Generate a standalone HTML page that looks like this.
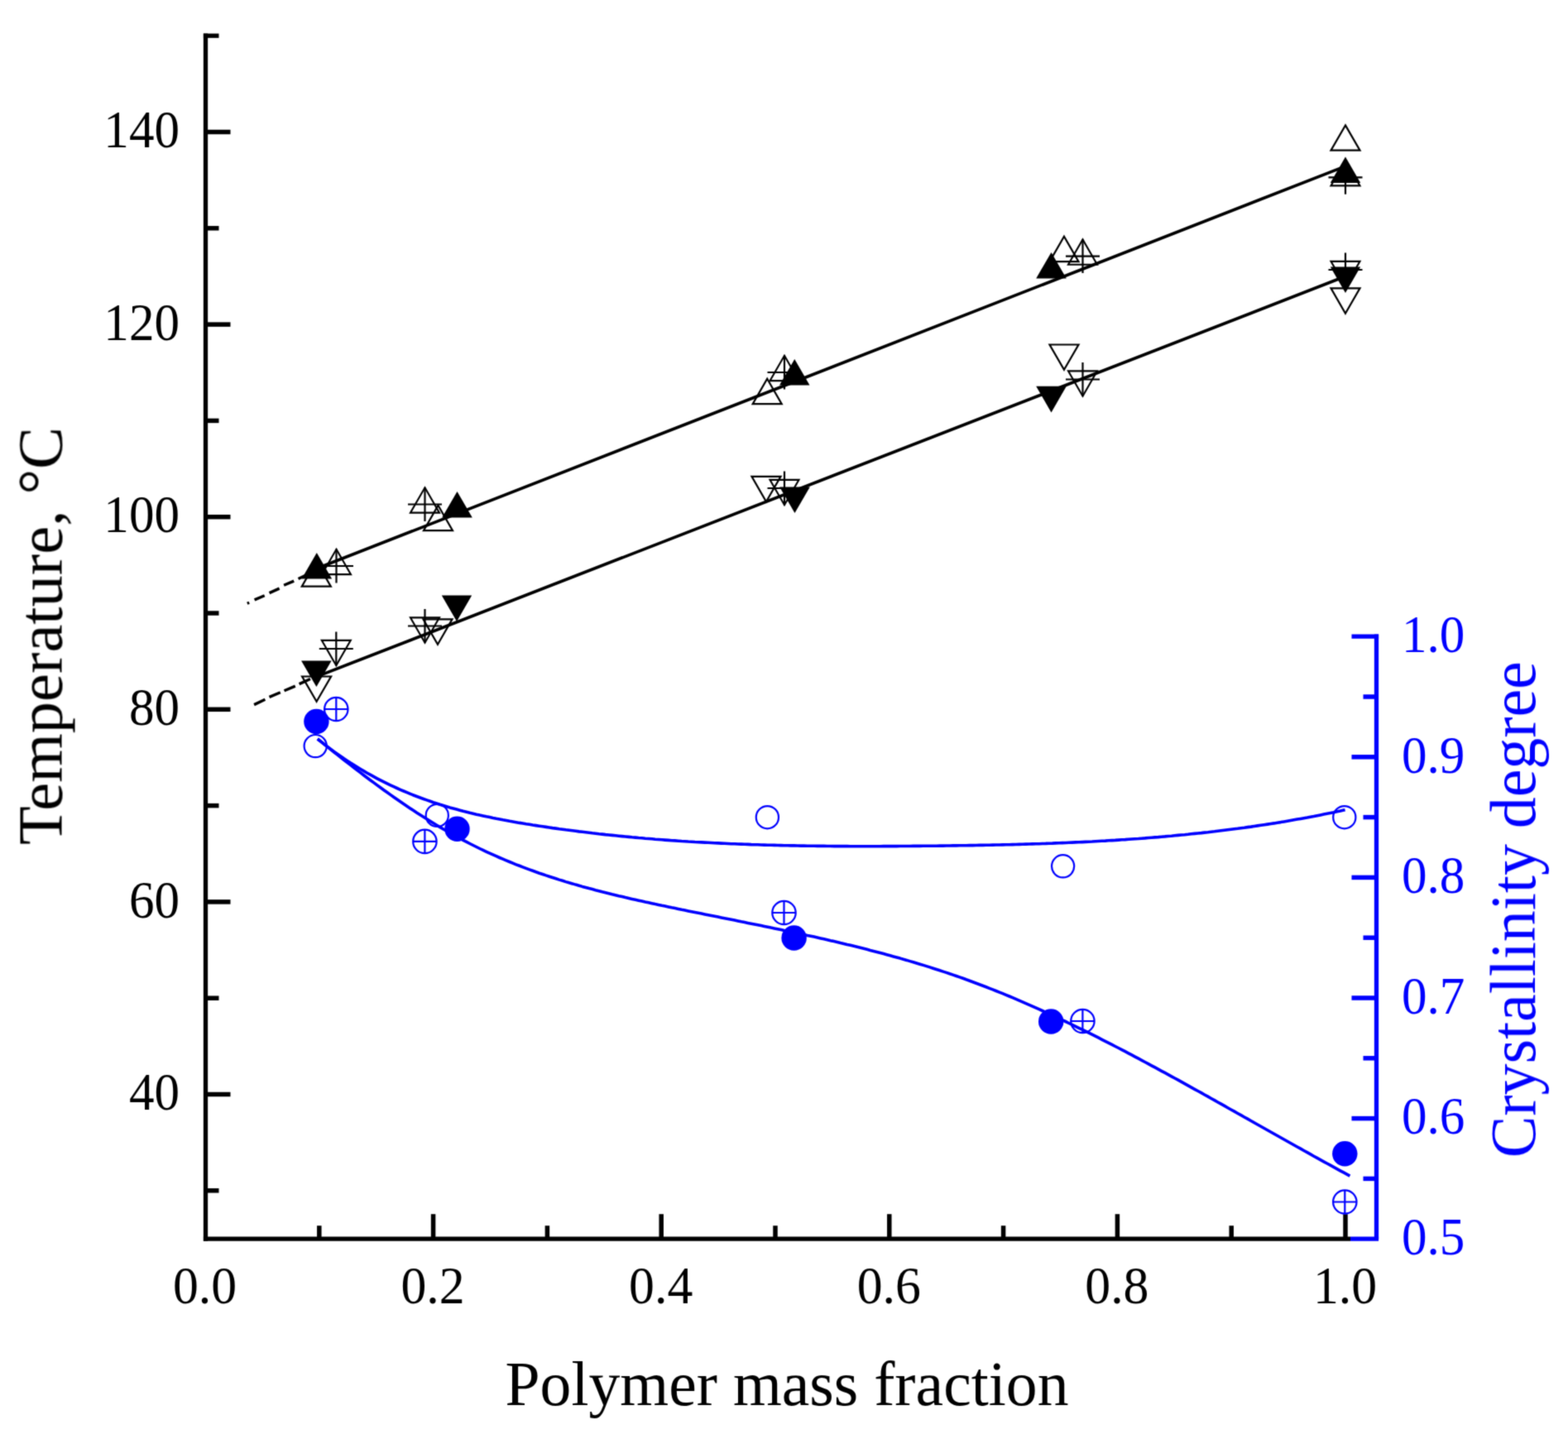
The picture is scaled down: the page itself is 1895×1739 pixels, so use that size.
<!DOCTYPE html>
<html><head><meta charset="utf-8"><style>html,body{margin:0;padding:0;background:#fff;}svg{display:block;}</style></head>
<body>
<svg width="1895" height="1739" viewBox="0 0 1895 1739">
<defs><filter id="soft" filterUnits="userSpaceOnUse" x="0" y="0" width="1895" height="1739" color-interpolation-filters="sRGB"><feConvolveMatrix order="3" kernelMatrix="0.0277 0.1110 0.0277 0.1110 0.4452 0.1110 0.0277 0.1110 0.0277" edgeMode="duplicate" preserveAlpha="false"/></filter></defs>
<rect width="100%" height="100%" fill="#fff"/>
<g filter="url(#soft)">
<path d="M248.5,40.59999999999999V1499.8" stroke="#000" stroke-width="5.3" fill="none"/>
<path d="M248.5,1438.8H264.5" stroke="#000" stroke-width="5.5"/>
<path d="M248.5,1322.5H278.5" stroke="#000" stroke-width="5.5"/>
<path d="M248.5,1206.2H264.5" stroke="#000" stroke-width="5.5"/>
<path d="M248.5,1089.9H278.5" stroke="#000" stroke-width="5.5"/>
<path d="M248.5,973.6H264.5" stroke="#000" stroke-width="5.5"/>
<path d="M248.5,857.3H278.5" stroke="#000" stroke-width="5.5"/>
<path d="M248.5,741.0H264.5" stroke="#000" stroke-width="5.5"/>
<path d="M248.5,624.7H278.5" stroke="#000" stroke-width="5.5"/>
<path d="M248.5,508.4H264.5" stroke="#000" stroke-width="5.5"/>
<path d="M248.5,392.1H278.5" stroke="#000" stroke-width="5.5"/>
<path d="M248.5,275.8H264.5" stroke="#000" stroke-width="5.5"/>
<path d="M248.5,159.5H278.5" stroke="#000" stroke-width="5.5"/>
<path d="M245.9,43.2H264.5" stroke="#000" stroke-width="5.3"/>
<path d="M245.9,1497.2H1632.0" stroke="#000" stroke-width="5.3"/>
<path d="M1632.0,1497.2H1666.1" stroke="#00f" stroke-width="5.3"/>
<path d="M385.8,1497.2V1481.2" stroke="#000" stroke-width="5.5"/>
<path d="M523.6,1497.2V1467.2" stroke="#000" stroke-width="5.5"/>
<path d="M661.4,1497.2V1481.2" stroke="#000" stroke-width="5.5"/>
<path d="M799.2,1497.2V1467.2" stroke="#000" stroke-width="5.5"/>
<path d="M937.0,1497.2V1481.2" stroke="#000" stroke-width="5.5"/>
<path d="M1074.8,1497.2V1467.2" stroke="#000" stroke-width="5.5"/>
<path d="M1212.6,1497.2V1481.2" stroke="#000" stroke-width="5.5"/>
<path d="M1350.4,1497.2V1467.2" stroke="#000" stroke-width="5.5"/>
<path d="M1488.2,1497.2V1481.2" stroke="#000" stroke-width="5.5"/>
<path d="M1626.0,1497.2V1467.2" stroke="#000" stroke-width="5.5"/>
<path d="M1663.5,766.6V1497.2" stroke="#00f" stroke-width="5.3" fill="none"/>
<path d="M1663.5,1424.4H1647.5" stroke="#00f" stroke-width="5.5"/>
<path d="M1663.5,1351.6H1633.5" stroke="#00f" stroke-width="5.5"/>
<path d="M1663.5,1278.8H1647.5" stroke="#00f" stroke-width="5.5"/>
<path d="M1663.5,1206.0H1633.5" stroke="#00f" stroke-width="5.5"/>
<path d="M1663.5,1133.2H1647.5" stroke="#00f" stroke-width="5.5"/>
<path d="M1663.5,1060.4H1633.5" stroke="#00f" stroke-width="5.5"/>
<path d="M1663.5,987.6H1647.5" stroke="#00f" stroke-width="5.5"/>
<path d="M1663.5,914.8H1633.5" stroke="#00f" stroke-width="5.5"/>
<path d="M1663.5,842.0H1647.5" stroke="#00f" stroke-width="5.5"/>
<path d="M1666.1,769.2H1633.5" stroke="#00f" stroke-width="5.3"/>
<text x="217" y="1341.2" text-anchor="end" font-family="Liberation Serif, serif" font-size="64" transform="translate(217 0) scale(0.955 1) translate(-217 0)">40</text>
<text x="217" y="1108.6" text-anchor="end" font-family="Liberation Serif, serif" font-size="64" transform="translate(217 0) scale(0.955 1) translate(-217 0)">60</text>
<text x="217" y="876.0" text-anchor="end" font-family="Liberation Serif, serif" font-size="64" transform="translate(217 0) scale(0.955 1) translate(-217 0)">80</text>
<text x="217" y="643.4" text-anchor="end" font-family="Liberation Serif, serif" font-size="64" transform="translate(217 0) scale(0.955 1) translate(-217 0)">100</text>
<text x="217" y="410.8" text-anchor="end" font-family="Liberation Serif, serif" font-size="64" transform="translate(217 0) scale(0.955 1) translate(-217 0)">120</text>
<text x="217" y="178.2" text-anchor="end" font-family="Liberation Serif, serif" font-size="64" transform="translate(217 0) scale(0.955 1) translate(-217 0)">140</text>
<text x="247.5" y="1575.5" text-anchor="middle" font-family="Liberation Serif, serif" font-size="64" transform="translate(247.5 0) scale(0.965 1) translate(-247.5 0)">0.0</text>
<text x="523.1" y="1575.5" text-anchor="middle" font-family="Liberation Serif, serif" font-size="64" transform="translate(523.1 0) scale(0.965 1) translate(-523.1 0)">0.2</text>
<text x="798.7" y="1575.5" text-anchor="middle" font-family="Liberation Serif, serif" font-size="64" transform="translate(798.7 0) scale(0.965 1) translate(-798.7 0)">0.4</text>
<text x="1074.3" y="1575.5" text-anchor="middle" font-family="Liberation Serif, serif" font-size="64" transform="translate(1074.3 0) scale(0.965 1) translate(-1074.3 0)">0.6</text>
<text x="1349.9" y="1575.5" text-anchor="middle" font-family="Liberation Serif, serif" font-size="64" transform="translate(1349.9 0) scale(0.965 1) translate(-1349.9 0)">0.8</text>
<text x="1625.5" y="1575.5" text-anchor="middle" font-family="Liberation Serif, serif" font-size="64" transform="translate(1625.5 0) scale(0.965 1) translate(-1625.5 0)">1.0</text>
<text x="1694" y="1516.0" fill="#00f" font-family="Liberation Serif, serif" font-size="64" transform="translate(1694 0) scale(0.955 1) translate(-1694 0)">0.5</text>
<text x="1694" y="1370.4" fill="#00f" font-family="Liberation Serif, serif" font-size="64" transform="translate(1694 0) scale(0.955 1) translate(-1694 0)">0.6</text>
<text x="1694" y="1224.8" fill="#00f" font-family="Liberation Serif, serif" font-size="64" transform="translate(1694 0) scale(0.955 1) translate(-1694 0)">0.7</text>
<text x="1694" y="1079.2" fill="#00f" font-family="Liberation Serif, serif" font-size="64" transform="translate(1694 0) scale(0.955 1) translate(-1694 0)">0.8</text>
<text x="1694" y="933.6" fill="#00f" font-family="Liberation Serif, serif" font-size="64" transform="translate(1694 0) scale(0.955 1) translate(-1694 0)">0.9</text>
<text x="1694" y="788.0" fill="#00f" font-family="Liberation Serif, serif" font-size="64" transform="translate(1694 0) scale(0.955 1) translate(-1694 0)">1.0</text>
<text x="951" y="1697.7" text-anchor="middle" font-family="Liberation Serif, serif" font-size="77" textLength="681" lengthAdjust="spacingAndGlyphs">Polymer mass fraction</text>
<text transform="translate(74.5 768.5) rotate(-90)" x="0" y="0" text-anchor="middle" font-family="Liberation Serif, serif" font-size="77" textLength="505" lengthAdjust="spacingAndGlyphs">Temperature, °C</text>
<text transform="translate(1855 1099.2) rotate(-90)" x="0" y="0" text-anchor="middle" fill="#00f" font-family="Liberation Serif, serif" font-size="78" textLength="600" lengthAdjust="spacingAndGlyphs">Crystallinity degree</text>
<polygon points="382.3,678.3 399.8,708.6 364.8,708.6" fill="none" stroke="#000" stroke-width="2.2" stroke-linejoin="miter"/>
<polygon points="529.5,610.8 547.0,641.1 512.0,641.1" fill="none" stroke="#000" stroke-width="2.2" stroke-linejoin="miter"/>
<polygon points="927.2,457.8 944.7,488.1 909.7,488.1" fill="none" stroke="#000" stroke-width="2.2" stroke-linejoin="miter"/>
<polygon points="1286.0,285.8 1303.5,316.1 1268.5,316.1" fill="none" stroke="#000" stroke-width="2.2" stroke-linejoin="miter"/>
<polygon points="1626.0,151.4 1643.5,181.7 1608.5,181.7" fill="none" stroke="#000" stroke-width="2.2" stroke-linejoin="miter"/>
<polygon points="382.6,847.8 400.1,817.5 365.1,817.5" fill="none" stroke="#000" stroke-width="2.2" stroke-linejoin="miter"/>
<polygon points="529.0,778.7 546.5,748.4 511.5,748.4" fill="none" stroke="#000" stroke-width="2.2" stroke-linejoin="miter"/>
<polygon points="926.0,606.2 943.5,575.9 908.5,575.9" fill="none" stroke="#000" stroke-width="2.2" stroke-linejoin="miter"/>
<polygon points="1286.0,446.8 1303.5,416.5 1268.5,416.5" fill="none" stroke="#000" stroke-width="2.2" stroke-linejoin="miter"/>
<polygon points="1626.0,378.7 1643.5,348.4 1608.5,348.4" fill="none" stroke="#000" stroke-width="2.2" stroke-linejoin="miter"/>
<polygon points="406.5,663.8 424.0,694.1 389.0,694.1" fill="none" stroke="#000" stroke-width="2.1"/>
<path d="M386.0,684.0H427.0M406.5,663.5V704.5" stroke="#000" stroke-width="2.2"/>
<polygon points="513.5,589.3 531.0,619.6 496.0,619.6" fill="none" stroke="#000" stroke-width="2.1"/>
<path d="M493.0,609.5H534.0M513.5,589.0V630.0" stroke="#000" stroke-width="2.2"/>
<polygon points="948.0,429.8 965.5,460.1 930.5,460.1" fill="none" stroke="#000" stroke-width="2.1"/>
<path d="M927.5,450.0H968.5M948.0,429.5V470.5" stroke="#000" stroke-width="2.2"/>
<polygon points="1308.5,289.4 1326.0,319.7 1291.0,319.7" fill="none" stroke="#000" stroke-width="2.1"/>
<path d="M1288.0,309.6H1329.0M1308.5,289.1V330.1" stroke="#000" stroke-width="2.2"/>
<polygon points="1626.0,194.1 1643.5,224.4 1608.5,224.4" fill="none" stroke="#000" stroke-width="2.1"/>
<path d="M1605.5,214.3H1646.5M1626.0,193.8V234.8" stroke="#000" stroke-width="2.2"/>
<polygon points="406.3,804.2 423.8,773.9 388.8,773.9" fill="none" stroke="#000" stroke-width="2.1"/>
<path d="M385.8,784.0H426.8M406.3,763.5V804.5" stroke="#000" stroke-width="2.2"/>
<polygon points="513.5,776.7 531.0,746.4 496.0,746.4" fill="none" stroke="#000" stroke-width="2.1"/>
<path d="M493.0,756.5H534.0M513.5,736.0V777.0" stroke="#000" stroke-width="2.2"/>
<polygon points="948.0,610.2 965.5,579.9 930.5,579.9" fill="none" stroke="#000" stroke-width="2.1"/>
<path d="M927.5,590.0H968.5M948.0,569.5V610.5" stroke="#000" stroke-width="2.2"/>
<polygon points="1308.5,478.7 1326.0,448.4 1291.0,448.4" fill="none" stroke="#000" stroke-width="2.1"/>
<path d="M1288.0,458.5H1329.0M1308.5,438.0V479.0" stroke="#000" stroke-width="2.2"/>
<polygon points="1626.0,346.2 1643.5,315.9 1608.5,315.9" fill="none" stroke="#000" stroke-width="2.1"/>
<path d="M1605.5,326.0H1646.5M1626.0,305.5V346.5" stroke="#000" stroke-width="2.2"/>
<circle cx="381.2" cy="901.6" r="13.6" fill="none" stroke="#00f" stroke-width="2.2"/>
<circle cx="528.3" cy="985.4" r="13.6" fill="none" stroke="#00f" stroke-width="2.2"/>
<circle cx="927.4" cy="987.7" r="13.6" fill="none" stroke="#00f" stroke-width="2.2"/>
<circle cx="1284.6" cy="1046.8" r="13.6" fill="none" stroke="#00f" stroke-width="2.2"/>
<circle cx="1624.8" cy="987.7" r="13.6" fill="none" stroke="#00f" stroke-width="2.2"/>
<circle cx="406.3" cy="857" r="14.2" fill="none" stroke="#00f" stroke-width="2.2"/>
<path d="M392.1,857.0H420.5M406.3,842.8V871.2" stroke="#00f" stroke-width="2.2"/>
<circle cx="513.4" cy="1016.9" r="14.2" fill="none" stroke="#00f" stroke-width="2.2"/>
<path d="M499.2,1016.9H527.6M513.4,1002.7V1031.1" stroke="#00f" stroke-width="2.2"/>
<circle cx="947.5" cy="1103" r="14.2" fill="none" stroke="#00f" stroke-width="2.2"/>
<path d="M933.3,1103.0H961.7M947.5,1088.8V1117.2" stroke="#00f" stroke-width="2.2"/>
<circle cx="1308.4" cy="1234" r="14.2" fill="none" stroke="#00f" stroke-width="2.2"/>
<path d="M1294.2,1234.0H1322.6M1308.4,1219.8V1248.2" stroke="#00f" stroke-width="2.2"/>
<circle cx="1625.3" cy="1452.5" r="14.2" fill="none" stroke="#00f" stroke-width="2.2"/>
<path d="M1611.1,1452.5H1639.5M1625.3,1438.3V1466.7" stroke="#00f" stroke-width="2.2"/>
<polygon points="382.8,667.9 401.1,699.5 364.6,699.5" fill="#000"/>
<polygon points="552.5,593.9 570.8,625.5 534.2,625.5" fill="#000"/>
<polygon points="960.3,433.9 978.5,465.5 942.0,465.5" fill="#000"/>
<polygon points="1270.5,304.9 1288.8,336.5 1252.2,336.5" fill="#000"/>
<polygon points="1626.0,189.4 1644.2,221.0 1607.8,221.0" fill="#000"/>
<polygon points="382.4,830.1 400.6,798.5 364.1,798.5" fill="#000"/>
<polygon points="552.0,751.1 570.2,719.5 533.8,719.5" fill="#000"/>
<polygon points="960.5,620.1 978.8,588.5 942.2,588.5" fill="#000"/>
<polygon points="1270.5,498.4 1288.8,466.8 1252.2,466.8" fill="#000"/>
<polygon points="1626.0,354.1 1644.2,322.5 1607.8,322.5" fill="#000"/>
<circle cx="382.4" cy="872" r="15.2" fill="#00f"/>
<circle cx="552.5" cy="1001.8" r="15.2" fill="#00f"/>
<circle cx="959.6" cy="1133.5" r="15.2" fill="#00f"/>
<circle cx="1270.2" cy="1234.5" r="15.2" fill="#00f"/>
<circle cx="1625.3" cy="1394.3" r="15.2" fill="#00f"/>
<path d="M388,685.0L1626,200.9" stroke="#000" stroke-width="3.7" fill="none"/>
<path d="M388,815.6L1620,336.3" stroke="#000" stroke-width="3.7" fill="none"/>
<path d="M298.8,729.2L301.2,728.2" stroke="#000" stroke-width="3.4" fill="none"/>
<path d="M307.6,724.9L319.7,719.7" stroke="#000" stroke-width="3.4" fill="none"/>
<path d="M325.5,716.6L337.6,711.1" stroke="#000" stroke-width="3.4" fill="none"/>
<path d="M343.1,707.3L355.2,702.1" stroke="#000" stroke-width="3.4" fill="none"/>
<path d="M360.5,699.5L372,694" stroke="#000" stroke-width="3.4" fill="none"/>
<path d="M307.1,851.6L320.4,845.2" stroke="#000" stroke-width="3.4" fill="none"/>
<path d="M325.5,842.4L338.8,836.7" stroke="#000" stroke-width="3.4" fill="none"/>
<path d="M343.5,834.8L356.8,829.1" stroke="#000" stroke-width="3.4" fill="none"/>
<path d="M361.6,826.6L375,820.5" stroke="#000" stroke-width="3.4" fill="none"/>
<path d="M383.8,893.0 L387.8,896.2 L391.8,899.4 L395.8,902.4 L399.8,905.4 L403.8,908.4 L407.8,911.2 L411.8,914.0 L415.8,916.8 L419.8,919.4 L423.8,922.1 L427.8,924.6 L431.8,927.1 L435.8,929.5 L439.8,931.9 L443.8,934.2 L447.8,936.4 L451.8,938.6 L455.8,940.8 L459.8,942.9 L463.8,944.9 L467.8,946.9 L471.8,948.8 L475.8,950.7 L479.8,952.5 L483.8,954.3 L487.8,956.0 L491.8,957.7 L495.8,959.4 L499.8,961.0 L503.8,962.5 L507.8,964.0 L511.8,965.5 L515.8,966.9 L519.8,968.3 L523.8,969.7 L527.8,971.0 L531.8,972.3 L535.8,973.5 L539.8,974.7 L543.8,975.9 L547.8,977.0 L551.8,978.1 L555.8,979.2 L559.8,980.3 L563.8,981.3 L567.8,982.3 L571.8,983.2 L575.8,984.2 L579.8,985.1 L583.8,985.9 L587.8,986.8 L591.8,987.6 L595.8,988.5 L599.8,989.3 L603.8,990.0 L607.8,990.8 L611.8,991.5 L615.8,992.3 L619.8,993.0 L623.8,993.7 L627.8,994.4 L631.8,995.0 L635.8,995.7 L639.8,996.3 L643.8,997.0 L647.8,997.6 L651.8,998.2 L655.8,998.8 L659.8,999.4 L663.8,1000.0 L667.8,1000.6 L671.8,1001.1 L675.8,1001.7 L679.8,1002.2 L683.8,1002.8 L687.8,1003.3 L691.8,1003.8 L695.8,1004.3 L699.8,1004.9 L703.8,1005.3 L707.8,1005.8 L711.8,1006.3 L715.8,1006.8 L719.8,1007.2 L723.8,1007.7 L727.8,1008.1 L731.8,1008.6 L735.8,1009.0 L739.8,1009.4 L743.8,1009.8 L747.8,1010.2 L751.8,1010.6 L755.8,1011.0 L759.8,1011.4 L763.8,1011.8 L767.8,1012.1 L771.8,1012.5 L775.8,1012.8 L779.8,1013.2 L783.8,1013.5 L787.8,1013.8 L791.8,1014.2 L795.8,1014.5 L799.8,1014.8 L803.8,1015.1 L807.8,1015.4 L811.8,1015.7 L815.8,1015.9 L819.8,1016.2 L823.8,1016.5 L827.8,1016.7 L831.8,1017.0 L835.8,1017.2 L839.8,1017.5 L843.8,1017.7 L847.8,1017.9 L851.8,1018.1 L855.8,1018.3 L859.8,1018.5 L863.8,1018.7 L867.8,1018.9 L871.8,1019.1 L875.8,1019.3 L879.8,1019.5 L883.8,1019.7 L887.8,1019.8 L891.8,1020.0 L895.8,1020.1 L899.8,1020.3 L903.8,1020.4 L907.8,1020.6 L911.8,1020.7 L915.8,1020.8 L919.8,1021.0 L923.8,1021.1 L927.8,1021.2 L931.8,1021.3 L935.8,1021.4 L939.8,1021.5 L943.8,1021.6 L947.8,1021.7 L951.8,1021.8 L955.8,1021.9 L959.8,1021.9 L963.8,1022.0 L967.8,1022.1 L971.8,1022.1 L975.8,1022.2 L979.8,1022.3 L983.8,1022.3 L987.8,1022.4 L991.8,1022.4 L995.8,1022.4 L999.8,1022.5 L1003.8,1022.5 L1007.8,1022.6 L1011.8,1022.6 L1015.8,1022.6 L1019.8,1022.6 L1023.8,1022.6 L1027.8,1022.7 L1031.8,1022.7 L1035.8,1022.7 L1039.8,1022.7 L1043.8,1022.7 L1047.8,1022.7 L1051.8,1022.7 L1055.8,1022.7 L1059.8,1022.7 L1063.8,1022.7 L1067.8,1022.6 L1071.8,1022.6 L1075.8,1022.6 L1079.8,1022.6 L1083.8,1022.6 L1087.8,1022.5 L1091.8,1022.5 L1095.8,1022.5 L1099.8,1022.5 L1103.8,1022.4 L1107.8,1022.4 L1111.8,1022.4 L1115.8,1022.3 L1119.8,1022.3 L1123.8,1022.2 L1127.8,1022.2 L1131.8,1022.2 L1135.8,1022.1 L1139.8,1022.1 L1143.8,1022.0 L1147.8,1022.0 L1151.8,1021.9 L1155.8,1021.9 L1159.8,1021.8 L1163.8,1021.8 L1167.8,1021.7 L1171.8,1021.6 L1175.8,1021.6 L1179.8,1021.5 L1183.8,1021.4 L1187.8,1021.4 L1191.8,1021.3 L1195.8,1021.2 L1199.8,1021.1 L1203.8,1021.0 L1207.8,1021.0 L1211.8,1020.9 L1215.8,1020.8 L1219.8,1020.7 L1223.8,1020.6 L1227.8,1020.5 L1231.8,1020.4 L1235.8,1020.3 L1239.8,1020.1 L1243.8,1020.0 L1247.8,1019.9 L1251.8,1019.8 L1255.8,1019.7 L1259.8,1019.5 L1263.8,1019.4 L1267.8,1019.2 L1271.8,1019.1 L1275.8,1018.9 L1279.8,1018.8 L1283.8,1018.6 L1287.8,1018.5 L1291.8,1018.3 L1295.8,1018.1 L1299.8,1017.9 L1303.8,1017.8 L1307.8,1017.6 L1311.8,1017.4 L1315.8,1017.2 L1319.8,1017.0 L1323.8,1016.7 L1327.8,1016.5 L1331.8,1016.3 L1335.8,1016.1 L1339.8,1015.8 L1343.8,1015.6 L1347.8,1015.4 L1351.8,1015.1 L1355.8,1014.8 L1359.8,1014.6 L1363.8,1014.3 L1367.8,1014.0 L1371.8,1013.7 L1375.8,1013.5 L1379.8,1013.2 L1383.8,1012.9 L1387.8,1012.5 L1391.8,1012.2 L1395.8,1011.9 L1399.8,1011.6 L1403.8,1011.2 L1407.8,1010.9 L1411.8,1010.5 L1415.8,1010.2 L1419.8,1009.8 L1423.8,1009.4 L1427.8,1009.0 L1431.8,1008.7 L1435.8,1008.3 L1439.8,1007.8 L1443.8,1007.4 L1447.8,1007.0 L1451.8,1006.6 L1455.8,1006.1 L1459.8,1005.7 L1463.8,1005.2 L1467.8,1004.8 L1471.8,1004.3 L1475.8,1003.8 L1479.8,1003.3 L1483.8,1002.8 L1487.8,1002.3 L1491.8,1001.8 L1495.8,1001.3 L1499.8,1000.7 L1503.8,1000.2 L1507.8,999.6 L1511.8,999.1 L1515.8,998.5 L1519.8,997.9 L1523.8,997.3 L1527.8,996.7 L1531.8,996.1 L1535.8,995.5 L1539.8,994.9 L1543.8,994.2 L1547.8,993.6 L1551.8,992.9 L1555.8,992.2 L1559.8,991.5 L1563.8,990.8 L1567.8,990.1 L1571.8,989.4 L1575.8,988.7 L1579.8,988.0 L1583.8,987.2 L1587.8,986.5 L1591.8,985.7 L1595.8,984.9 L1599.8,984.1 L1603.8,983.3 L1607.8,982.5 L1611.8,981.7 L1615.8,980.8 L1619.8,980.0 L1623.8,979.1 L1625.6,978.7" stroke="#00f" stroke-width="3.6" fill="none" stroke-linejoin="round"/>
<path d="M383.8,893.0 L387.8,896.2 L391.8,899.4 L395.8,902.6 L399.8,905.8 L403.8,909.0 L407.8,912.2 L411.8,915.4 L415.8,918.5 L419.8,921.6 L423.8,924.7 L427.8,927.8 L431.8,930.9 L435.8,933.9 L439.8,937.0 L443.8,940.0 L447.8,943.0 L451.8,945.9 L455.8,948.9 L459.8,951.8 L463.8,954.7 L467.8,957.5 L471.8,960.4 L475.8,963.2 L479.8,966.0 L483.8,968.8 L487.8,971.5 L491.8,974.2 L495.8,976.9 L499.8,979.5 L503.8,982.2 L507.8,984.7 L511.8,987.3 L515.8,989.8 L519.8,992.3 L523.8,994.8 L527.8,997.2 L531.8,999.6 L535.8,1002.0 L539.8,1004.3 L543.8,1006.6 L547.8,1008.8 L551.8,1011.0 L555.8,1013.2 L559.8,1015.3 L563.8,1017.4 L567.8,1019.5 L571.8,1021.5 L575.8,1023.5 L579.8,1025.5 L583.8,1027.4 L587.8,1029.3 L591.8,1031.1 L595.8,1032.9 L599.8,1034.7 L603.8,1036.5 L607.8,1038.2 L611.8,1039.9 L615.8,1041.5 L619.8,1043.2 L623.8,1044.8 L627.8,1046.3 L631.8,1047.9 L635.8,1049.4 L639.8,1050.9 L643.8,1052.3 L647.8,1053.8 L651.8,1055.2 L655.8,1056.5 L659.8,1057.9 L663.8,1059.2 L667.8,1060.5 L671.8,1061.8 L675.8,1063.1 L679.8,1064.3 L683.8,1065.6 L687.8,1066.8 L691.8,1067.9 L695.8,1069.1 L699.8,1070.2 L703.8,1071.4 L707.8,1072.5 L711.8,1073.6 L715.8,1074.6 L719.8,1075.7 L723.8,1076.7 L727.8,1077.8 L731.8,1078.8 L735.8,1079.8 L739.8,1080.8 L743.8,1081.7 L747.8,1082.7 L751.8,1083.6 L755.8,1084.6 L759.8,1085.5 L763.8,1086.4 L767.8,1087.3 L771.8,1088.2 L775.8,1089.1 L779.8,1090.0 L783.8,1090.8 L787.8,1091.7 L791.8,1092.6 L795.8,1093.4 L799.8,1094.3 L803.8,1095.1 L807.8,1095.9 L811.8,1096.8 L815.8,1097.6 L819.8,1098.4 L823.8,1099.3 L827.8,1100.1 L831.8,1100.9 L835.8,1101.7 L839.8,1102.5 L843.8,1103.3 L847.8,1104.1 L851.8,1104.9 L855.8,1105.7 L859.8,1106.5 L863.8,1107.3 L867.8,1108.1 L871.8,1108.9 L875.8,1109.7 L879.8,1110.5 L883.8,1111.3 L887.8,1112.1 L891.8,1112.9 L895.8,1113.8 L899.8,1114.6 L903.8,1115.4 L907.8,1116.2 L911.8,1117.0 L915.8,1117.8 L919.8,1118.6 L923.8,1119.4 L927.8,1120.2 L931.8,1121.1 L935.8,1121.9 L939.8,1122.7 L943.8,1123.5 L947.8,1124.4 L951.8,1125.2 L955.8,1126.1 L959.8,1126.9 L963.8,1127.8 L967.8,1128.6 L971.8,1129.5 L975.8,1130.4 L979.8,1131.2 L983.8,1132.1 L987.8,1133.0 L991.8,1133.9 L995.8,1134.8 L999.8,1135.7 L1003.8,1136.7 L1007.8,1137.6 L1011.8,1138.5 L1015.8,1139.5 L1019.8,1140.4 L1023.8,1141.4 L1027.8,1142.3 L1031.8,1143.3 L1035.8,1144.3 L1039.8,1145.3 L1043.8,1146.3 L1047.8,1147.3 L1051.8,1148.4 L1055.8,1149.4 L1059.8,1150.4 L1063.8,1151.5 L1067.8,1152.6 L1071.8,1153.7 L1075.8,1154.8 L1079.8,1155.9 L1083.8,1157.0 L1087.8,1158.1 L1091.8,1159.3 L1095.8,1160.4 L1099.8,1161.6 L1103.8,1162.8 L1107.8,1164.0 L1111.8,1165.2 L1115.8,1166.4 L1119.8,1167.6 L1123.8,1168.9 L1127.8,1170.2 L1131.8,1171.5 L1135.8,1172.8 L1139.8,1174.1 L1143.8,1175.4 L1147.8,1176.8 L1151.8,1178.1 L1155.8,1179.5 L1159.8,1180.9 L1163.8,1182.3 L1167.8,1183.8 L1171.8,1185.2 L1175.8,1186.7 L1179.8,1188.2 L1183.8,1189.7 L1187.8,1191.2 L1191.8,1192.7 L1195.8,1194.3 L1199.8,1195.9 L1203.8,1197.5 L1207.8,1199.1 L1211.8,1200.7 L1215.8,1202.4 L1219.8,1204.0 L1223.8,1205.7 L1227.8,1207.4 L1231.8,1209.1 L1235.8,1210.8 L1239.8,1212.6 L1243.8,1214.3 L1247.8,1216.1 L1251.8,1217.9 L1255.8,1219.7 L1259.8,1221.5 L1263.8,1223.3 L1267.8,1225.1 L1271.8,1227.0 L1275.8,1228.9 L1279.8,1230.7 L1283.8,1232.6 L1287.8,1234.5 L1291.8,1236.5 L1295.8,1238.4 L1299.8,1240.3 L1303.8,1242.3 L1307.8,1244.2 L1311.8,1246.2 L1315.8,1248.2 L1319.8,1250.2 L1323.8,1252.2 L1327.8,1254.2 L1331.8,1256.3 L1335.8,1258.3 L1339.8,1260.3 L1343.8,1262.4 L1347.8,1264.5 L1351.8,1266.5 L1355.8,1268.6 L1359.8,1270.7 L1363.8,1272.8 L1367.8,1274.9 L1371.8,1277.1 L1375.8,1279.2 L1379.8,1281.3 L1383.8,1283.5 L1387.8,1285.6 L1391.8,1287.8 L1395.8,1289.9 L1399.8,1292.1 L1403.8,1294.3 L1407.8,1296.4 L1411.8,1298.6 L1415.8,1300.8 L1419.8,1303.0 L1423.8,1305.2 L1427.8,1307.4 L1431.8,1309.6 L1435.8,1311.8 L1439.8,1314.1 L1443.8,1316.3 L1447.8,1318.5 L1451.8,1320.7 L1455.8,1323.0 L1459.8,1325.2 L1463.8,1327.5 L1467.8,1329.7 L1471.8,1332.0 L1475.8,1334.2 L1479.8,1336.4 L1483.8,1338.7 L1487.8,1341.0 L1491.8,1343.2 L1495.8,1345.5 L1499.8,1347.7 L1503.8,1350.0 L1507.8,1352.2 L1511.8,1354.5 L1515.8,1356.8 L1519.8,1359.0 L1523.8,1361.3 L1527.8,1363.5 L1531.8,1365.8 L1535.8,1368.0 L1539.8,1370.3 L1543.8,1372.5 L1547.8,1374.8 L1551.8,1377.0 L1555.8,1379.3 L1559.8,1381.5 L1563.8,1383.8 L1567.8,1386.0 L1571.8,1388.2 L1575.8,1390.5 L1579.8,1392.7 L1583.8,1394.9 L1587.8,1397.2 L1591.8,1399.4 L1595.8,1401.6 L1599.8,1403.8 L1603.8,1406.0 L1607.8,1408.2 L1611.8,1410.4 L1615.8,1412.6 L1619.8,1414.8 L1623.8,1416.9 L1627.8,1419.1 L1631.4,1421.1" stroke="#00f" stroke-width="3.6" fill="none" stroke-linejoin="round"/>
</g>
</svg>
</body></html>
